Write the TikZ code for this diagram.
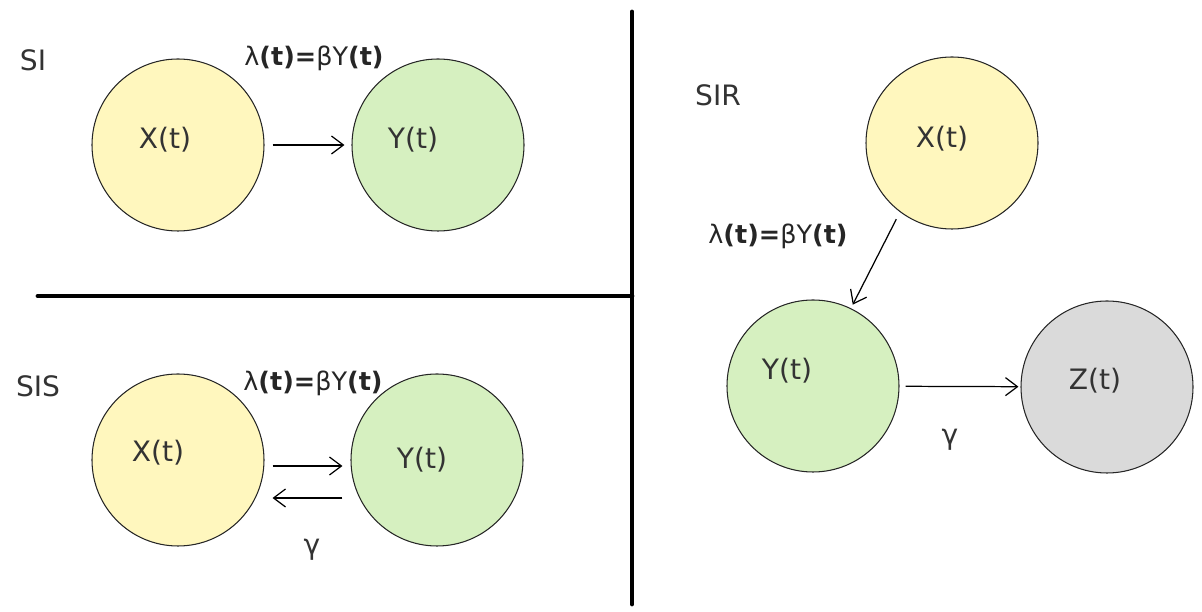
\documentclass[tikz,border=0pt]{standalone}
\usepackage{fontspec}
\setmainfont{DejaVu Sans}
\usetikzlibrary{arrows.meta, positioning}

\definecolor{suscYellow}{RGB}{255,247,190}
\definecolor{infGreen}{RGB}{214,240,192}
\definecolor{recGray}{RGB}{218,218,218}

\begin{document}
\begin{tikzpicture}[
  comp/.style={circle, draw=black!85, line width=0.6pt, minimum size=3.44cm, inner sep=0pt},
  susc/.style={comp, fill=suscYellow},
  infd/.style={comp, fill=infGreen},
  recv/.style={comp, fill=recGray},
  txt/.style={font=\fontsize{16}{19}\selectfont, text=black!80},
  rate/.style={font=\fontsize{14.5}{17}\selectfont, text=black!85},
  ->, >={Straight Barb[length=0.24cm, width=0.36cm]}, line width=0.7pt
]
  \useasboundingbox (0,0) rectangle (24.04,12.24);

  % dividers
  \draw[-, line width=2.8pt, line cap=round] (0.76,6.32) -- (12.64,6.32);
  \draw[-, line width=2.8pt, line cap=round] (12.64,12.0) -- (12.64,0.16);

  % SI
  \node[txt] (SI) at (0.66,11.04) {SI};
  \node[susc, label={[txt, xshift=-0.26cm, yshift=0.1cm]center:X(t)}] (X1) at (3.56,9.34) {};
  \node[infd, label={[txt, xshift=-0.5cm, yshift=0.1cm]center:Y(t)}] (Y1) at (8.76,9.34) {};
  \node[rate] (L1) at (6.28,11.08) {λ\textbf{(t)=}βY\textbf{(t)}};
  \path (X1) edge[shorten <=0.16cm, shorten >=0.14cm] (Y1);

  % SIS
  \node[txt] (SIS) at (0.76,4.52) {SIS};
  \node[susc, label={[txt, xshift=-0.4cm, yshift=0.15cm]center:X(t)}] (X2) at (3.56,3.04) {};
  \node[infd, label={[txt, xshift=-0.3cm]center:Y(t)}] (Y2) at (8.74,3.04) {};
  \node[rate] (L2) at (6.26,4.58) {λ\textbf{(t)=}βY\textbf{(t)}};
  \node[txt] (G2) at (6.24,1.24) {γ};
  \path ([yshift=-0.12cm]X2.east) edge[shorten <=0.16cm, shorten >=0.16cm] ([yshift=-0.12cm]Y2.west)
        ([yshift=-0.76cm]Y2.west) edge[shorten <=0.16cm, shorten >=0.16cm] ([yshift=-0.76cm]X2.east);

  % SIR
  \node[txt] (SIR) at (14.36,10.34) {SIR};
  \node[susc, label={[txt, xshift=-0.2cm, yshift=0.08cm]center:X(t)}] (X3) at (19.04,9.38) {};
  \node[infd, label={[txt, xshift=-0.52cm, yshift=0.3cm]center:Y(t)}] (Y3) at (16.26,4.52) {};
  \node[recv, label={[txt, xshift=-0.24cm, yshift=0.12cm]center:Z(t)}] (Z3) at (22.14,4.50) {};
  \node[rate] (L3) at (15.56,7.52) {λ\textbf{(t)=}βY\textbf{(t)}};
  \node[txt] (G3) at (19.0,3.44) {γ};
  \path (X3.233) edge[shorten <=0.16cm, shorten >=0.08cm] (Y3.64)
        (Y3) edge[shorten <=0.12cm, shorten >=0.04cm] (Z3);
\end{tikzpicture}
\end{document}
